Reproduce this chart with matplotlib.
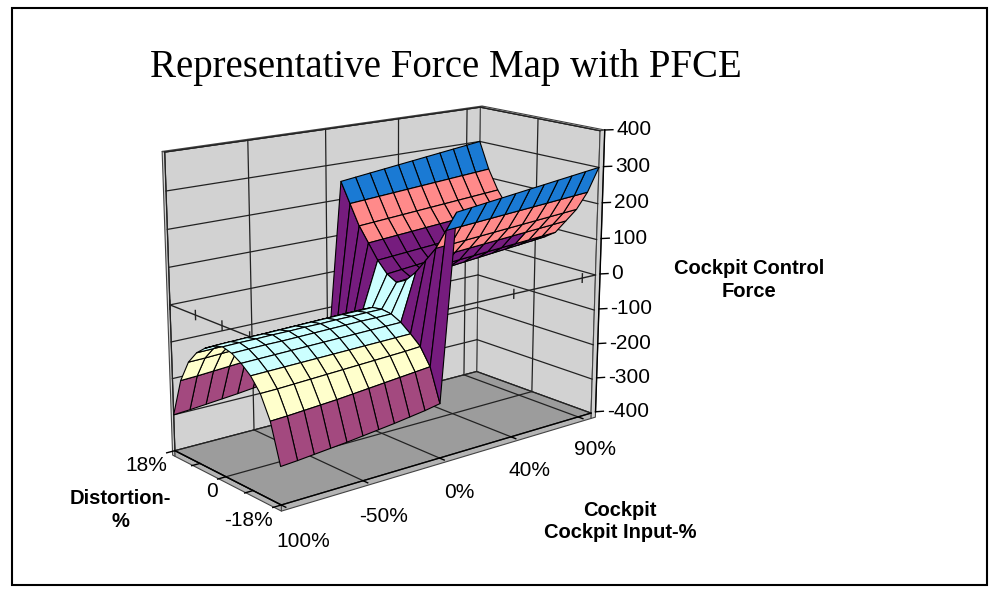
import matplotlib
matplotlib.use('Agg')
import matplotlib.pyplot as plt
import matplotlib.patches as patches
import numpy as np
from mpl_toolkits.mplot3d.art3d import Poly3DCollection

# categories along the input axis (equally spaced, as in the spreadsheet)
input_pct = [-100, -90, -80, -70, -60, -50, -40, -30, -20, -10, 0,
             5, 10, 20, 30, 40, 50, 60, 70, 80, 90, 100]
input_tick_idx = [0, 5, 10, 15, 20]
input_tick_labels = ['100%', '-50%', '0%', '40%', '90%']

# series along the depth axis
distortion = [18, 15, 12, 9, 6, 3, 0, -3, -6, -9, -12, -15, -18]
dist_ticks = [18, 9, 0, -9, -18]
dist_tick_labels = {18: '18%', 0: '0', -18: '-18%'}

force_ticks = [-400, -300, -200, -100, 0, 100, 200, 300, 400]
band_colors = ['#9999FF', '#A3497F', '#FFFFCC', '#CCFFFF',
               '#761C7E', '#FF8A8A', '#1A7AD4', '#CCCCFF']

# force, one row per distortion level
force = [
    [-300, -297, -293, -289, -285, -280, -275, -270, -264, -258, -250,
     250, 255, 260, 265, 270, 275, 280, 285, 290, 295, 300],
    [-195, -193, -190, -187, -184, -180, -176, -172, -168, -164, -160,
     195, 198, 201, 204, 207, 210, 213, 216, 219, 222, 225],
    [-135, -134, -132, -130, -128, -126, -124, -122, -120, -118, -115,
     140, 143, 146, 149, 152, 155, 158, 161, 164, 167, 170],
    [-100, -99, -98, -97, -96, -95, -94, -93, -92, -91, -90,
     100, 103, 106, 109, 112, 115, 118, 121, 124, 127, 130],
    [-78, -77, -76, -75, -74, -73, -72, -71, -70, -69, -68,
     60, 63, 66, 69, 72, 75, 78, 81, 84, 87, 90],
    [-62, -61, -60, -60, -59, -58, -57, -56, -55, -55, -54,
     30, 34, 38, 42, 46, 50, 54, 58, 62, 66, 70],
    [-55, -54, -54, -53, -53, -52, -52, -51, -51, -50, -50,
     15, 20, 25, 30, 35, 40, 45, 50, 55, 60, 65],
    [-62, -61, -60, -60, -59, -58, -57, -56, -55, -55, -54,
     30, 34, 38, 42, 46, 50, 54, 58, 62, 66, 70],
    [-78, -77, -76, -75, -74, -73, -72, -71, -70, -69, -68,
     60, 63, 66, 69, 72, 75, 78, 81, 84, 87, 90],
    [-100, -99, -98, -97, -96, -95, -94, -93, -92, -91, -90,
     100, 103, 106, 109, 112, 115, 118, 121, 124, 127, 130],
    [-135, -134, -132, -130, -128, -126, -124, -122, -120, -118, -115,
     140, 143, 146, 149, 152, 155, 158, 161, 164, 167, 170],
    [-195, -193, -190, -187, -184, -180, -176, -172, -168, -164, -160,
     195, 198, 201, 204, 207, 210, 213, 216, 219, 222, 225],
    [-300, -297, -293, -289, -285, -280, -275, -270, -264, -258, -250,
     250, 255, 260, 265, 270, 275, 280, 285, 290, 295, 300],
]

fig = plt.figure(figsize=(10, 6), dpi=100)
ax = fig.add_axes([0.081, 0.004, 0.6, 1.0], projection='3d', computed_zorder=False)
ax.set_proj_type('persp', focal_length=0.55)
ax.view_init(elev=15.5, azim=-129)
ax.set_box_aspect((410, 185, 308), zoom=0.862)

nx = len(input_pct)
xi = np.arange(nx)
X, Y = np.meshgrid(xi, distortion)
Z = np.array(force, dtype=float)
x0, x1 = 0, nx - 1
y0, y1 = min(distortion), max(distortion)
z0, z1 = force_ticks[0], force_ticks[-1]
ax.set_xlim(x0, x1)
ax.set_ylim(y0, y1)
ax.set_zlim(z0, z1)
ax.set_axis_off()

# walls and floor, with a little thickness like the spreadsheet chart
wall_c = '#D2D2D2'
floor_c = '#9C9C9C'
edge_c = '#444444'
tw = 0.9    # back wall thickness (distortion units)
ts = 0.35   # side wall thickness (category units)
tf = 16     # floor thickness (force units)
walls = [
    [(x0, y1, z0), (x1, y1, z0), (x1, y1, z1), (x0, y1, z1)],
    [(x1, y0, z0), (x1, y1, z0), (x1, y1, z1), (x1, y0, z1)],
    [(x0, y1, z1), (x1 + ts, y1, z1), (x1 + ts, y1 + tw, z1), (x0, y1 + tw, z1)],
    [(x0, y1, z0 - tf), (x0, y1 + tw, z0 - tf), (x0, y1 + tw, z1), (x0, y1, z1)],
    [(x1, y0, z1), (x1 + ts, y0, z1), (x1 + ts, y1, z1), (x1, y1, z1)],
    [(x1, y0, z0 - tf), (x1 + ts, y0, z0 - tf), (x1 + ts, y0, z1), (x1, y0, z1)],
]
ax.add_collection3d(Poly3DCollection(walls, facecolors=wall_c, edgecolors=edge_c,
                                     linewidths=0.8, zorder=0))
floor = [
    [(x0, y0, z0), (x1, y0, z0), (x1, y1, z0), (x0, y1, z0)],
    [(x0, y0, z0 - tf), (x1, y0, z0 - tf), (x1, y0, z0), (x0, y0, z0)],
    [(x0, y0, z0 - tf), (x0, y1, z0 - tf), (x0, y1, z0), (x0, y0, z0)],
]
ax.add_collection3d(Poly3DCollection(floor, facecolors=[floor_c, '#B4B4B4', '#B4B4B4'],
                                     edgecolors=edge_c, linewidths=0.8, zorder=0))

gkw = dict(color='#222222', lw=0.9, zorder=1)
for z in force_ticks:
    ax.plot([x0, x1], [y1, y1], [z, z], **gkw)
    ax.plot([x1, x1], [y1, y0], [z, z], **gkw)
for i in input_tick_idx:
    ax.plot([i, i], [y1, y1], [z0, z1], **gkw)
    ax.plot([i, i], [y0, y1], [z0, z0], **gkw)
for d in [0]:
    ax.plot([x1, x1], [d, d], [z0, z1], **gkw)
    ax.plot([x0, x1], [d, d], [z0, z0], **gkw)

# axis lines crossing at zero force
akw = dict(color='#222222', lw=1.0, zorder=2)
ax.plot([x0, x1], [y0, y0], [0, 0], **akw)
ax.plot([x0, x0], [y0, y1], [0, 0], **akw)
for i in input_tick_idx:
    ax.plot([i, i], [y0, y0], [-12, 12], **akw)
for d in dist_ticks:
    ax.plot([x0, x0], [d, d], [-12, 12], **akw)

# surface coloured by force band
zm = (Z[:-1, :-1] + Z[1:, :-1] + Z[:-1, 1:] + Z[1:, 1:]) / 4.0
band = np.clip(np.digitize(zm, force_ticks[1:-1]), 0, len(band_colors) - 1)
fc = np.empty(Z.shape, dtype=object)
fc[:] = '#FFFFFF'
for r in range(zm.shape[0]):
    for c in range(zm.shape[1]):
        fc[r, c] = band_colors[band[r, c]]
ax.plot_surface(X, Y, Z, facecolors=fc, edgecolor='black', linewidth=0.8,
                rstride=1, cstride=1, shade=False, antialiased=True, zorder=3)

# outer axis lines and ticks
okw = dict(color='black', lw=1.0, zorder=4)
ax.plot([x0, x1], [y0, y0], [z0, z0], **okw)
ax.plot([x0, x0], [y0, y1], [z0, z0], **okw)
ax.plot([x1 + ts, x1 + ts], [y0, y0], [z0, z1], **okw)
tkw = dict(color='black', lw=1.0, zorder=4)
for z in force_ticks:
    ax.plot([x1 + ts, x1 + ts + 0.4], [y0, y0 - 0.8], [z, z], **tkw)
for i in input_tick_idx:
    ax.plot([i, i], [y0, y0 - 1.4], [z0, z0], **tkw)
for d in dist_ticks:
    ax.plot([x0, x0 - 0.5], [d, d], [z0, z0], **tkw)

# tick labels: project the 3d anchor once, then place plain 2d text
M = ax.get_proj()
lab_kw = dict(fontsize=15, family='Liberation Sans', zorder=5)


def put_label(x, y, z, s, **kw):
    v = M @ np.array([x, y, z, 1.0])
    ax.text2D(v[0] / v[3], v[1] / v[3], s, transform=ax.transData, **kw)


for z in force_ticks:
    put_label(x1 + ts + 0.55, y0 - 1.2, z, str(z), ha='left', va='center', **lab_kw)
for i, lab in zip(input_tick_idx, input_tick_labels):
    put_label(i + 0.9, y0 - 2.0, z0 - 100, lab, ha='center', va='center', **lab_kw)
for d in dist_ticks:
    if d in dist_tick_labels:
        put_label(x0 - 0.5, d, z0 - 35, dist_tick_labels[d], ha='right', va='center', **lab_kw)

fig.text(0.446, 0.887, 'Representative Force Map with PFCE', ha='center', va='center',
         fontsize=28, family='Liberation Serif')
ttl_kw = dict(ha='center', va='center', fontsize=14.5, fontweight='bold',
              family='Liberation Sans', linespacing=1.25)
fig.text(0.749, 0.533, 'Cockpit Control\nForce', **ttl_kw)
fig.text(0.12, 0.150, 'Distortion-\n%', **ttl_kw)
fig.text(0.62, 0.131, 'Cockpit\nCockpit Input-%', **ttl_kw)

fig.add_artist(patches.Rectangle((0.012, 0.025), 0.975, 0.962, transform=fig.transFigure,
                                 fill=False, edgecolor='black', lw=1.5))

fig.savefig('out.png', dpi=100)
